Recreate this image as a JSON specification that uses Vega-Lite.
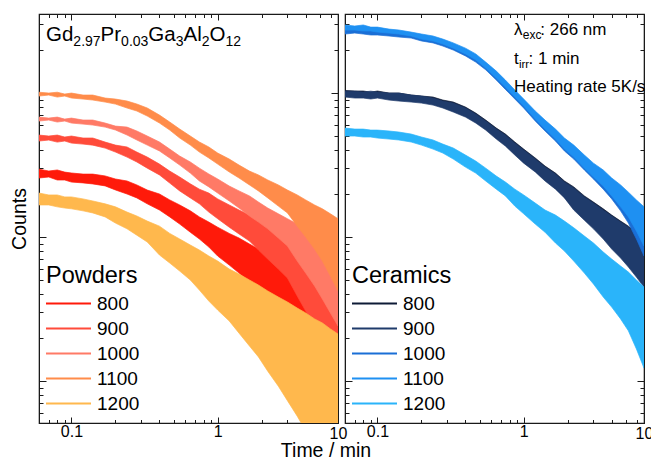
{
  "$schema": "https://vega.github.io/schema/vega-lite/v6.json",
  "background": "white",
  "padding": {"left": 8, "top": 12, "right": 0, "bottom": 0},
  "autosize": {"type": "pad"},
  "bounds": "flush",
  "spacing": 7,
  "config": {
    "font": "Liberation Sans",
    "view": {"stroke": "#1a1a1a", "strokeWidth": 1.2},
    "axis": {"grid": false, "domainColor": "#1a1a1a", "tickColor": "#1a1a1a", "labelColor": "black", "titleColor": "black", "titleFontWeight": "normal", "labelFont": "Liberation Sans", "titleFont": "Liberation Sans"},
    "legend": {"titleFont": "Liberation Sans", "labelFont": "Liberation Sans"}
  },
  "datasets": {
    "powders": [
      {"s":"800","t":0.06,"hi":2962,"lo":2570},{"s":"800","t":0.07,"hi":2873,"lo":2611},{"s":"800","t":0.08,"hi":2922,"lo":2489},{"s":"800","t":0.09,"hi":2824,"lo":2489},{"s":"800","t":0.1,"hi":2785,"lo":2408},{"s":"800","t":0.12,"hi":2736,"lo":2377},{"s":"800","t":0.14,"hi":2736,"lo":2337},{"s":"800","t":0.17,"hi":2657,"lo":2266},{"s":"800","t":0.2,"hi":2529,"lo":2123},{"s":"800","t":0.24,"hi":2450,"lo":1990},{"s":"800","t":0.28,"hi":2300,"lo":1870},{"s":"800","t":0.33,"hi":2120,"lo":1700},{"s":"800","t":0.4,"hi":1990,"lo":1540},{"s":"800","t":0.47,"hi":1810,"lo":1380},{"s":"800","t":0.55,"hi":1670,"lo":1230},{"s":"800","t":0.65,"hi":1520,"lo":1080},{"s":"800","t":0.75,"hi":1380,"lo":969},{"s":"800","t":0.87,"hi":1270,"lo":852},{"s":"800","t":1,"hi":1170,"lo":738},{"s":"800","t":1.2,"hi":1060,"lo":639},{"s":"800","t":1.4,"hi":984,"lo":562},{"s":"800","t":1.65,"hi":894,"lo":487},{"s":"800","t":1.9,"hi":825,"lo":422},{"s":"800","t":2.2,"hi":762,"lo":359},{"s":"800","t":2.6,"hi":692,"lo":297},{"s":"800","t":3,"hi":639,"lo":253},{"s":"800","t":3.5,"hi":590,"lo":205},{"s":"800","t":4,"hi":545,"lo":167},{"s":"800","t":4.6,"hi":495,"lo":134},{"s":"800","t":5.2,"hi":457,"lo":108},{"s":"800","t":5.9,"hi":415,"lo":85},{"s":"800","t":6.65,"hi":383,"lo":67},
      {"s":"900","t":0.06,"hi":5107,"lo":4643},{"s":"900","t":0.07,"hi":5028,"lo":4714},{"s":"900","t":0.08,"hi":5107,"lo":4562},{"s":"900","t":0.09,"hi":4950,"lo":4643},{"s":"900","t":0.1,"hi":5028,"lo":4491},{"s":"900","t":0.12,"hi":4871,"lo":4420},{"s":"900","t":0.14,"hi":4871,"lo":4348},{"s":"900","t":0.17,"hi":4566,"lo":4145},{"s":"900","t":0.2,"hi":4349,"lo":3891},{"s":"900","t":0.24,"hi":4220,"lo":3590},{"s":"900","t":0.28,"hi":3890,"lo":3320},{"s":"900","t":0.33,"hi":3590,"lo":3010},{"s":"900","t":0.4,"hi":3210,"lo":2700},{"s":"900","t":0.47,"hi":2870,"lo":2370},{"s":"900","t":0.55,"hi":2610,"lo":2090},{"s":"900","t":0.65,"hi":2340,"lo":1870},{"s":"900","t":0.75,"hi":2150,"lo":1700},{"s":"900","t":0.87,"hi":2020,"lo":1490},{"s":"900","t":1,"hi":1840,"lo":1340},{"s":"900","t":1.2,"hi":1670,"lo":1170},{"s":"900","t":1.4,"hi":1540,"lo":1050},{"s":"900","t":1.65,"hi":1420,"lo":938},{"s":"900","t":1.9,"hi":1310,"lo":812},{"s":"900","t":2.2,"hi":1190,"lo":703},{"s":"900","t":2.6,"hi":1080,"lo":599},{"s":"900","t":3,"hi":1000,"lo":519},{"s":"900","t":3.5,"hi":923,"lo":389},{"s":"900","t":4,"hi":852,"lo":306},{"s":"900","t":4.6,"hi":774,"lo":241},{"s":"900","t":5.2,"hi":715,"lo":190},{"s":"900","t":5.9,"hi":660,"lo":149},{"s":"900","t":6.65,"hi":609,"lo":117},
      {"s":"1000","t":0.06,"hi":6809,"lo":6391},{"s":"1000","t":0.07,"hi":6701,"lo":6492},{"s":"1000","t":0.08,"hi":6809,"lo":6289},{"s":"1000","t":0.09,"hi":6593,"lo":6391},{"s":"1000","t":0.1,"hi":6701,"lo":6187},{"s":"1000","t":0.12,"hi":6494,"lo":6086},{"s":"1000","t":0.14,"hi":6494,"lo":5994},{"s":"1000","t":0.17,"hi":6189,"lo":5801},{"s":"1000","t":0.2,"hi":5894,"lo":5537},{"s":"1000","t":0.24,"hi":5800,"lo":5110},{"s":"1000","t":0.28,"hi":5450,"lo":4720},{"s":"1000","t":0.33,"hi":5030,"lo":4350},{"s":"1000","t":0.4,"hi":4570,"lo":3960},{"s":"1000","t":0.47,"hi":4080,"lo":3540},{"s":"1000","t":0.55,"hi":3650,"lo":3160},{"s":"1000","t":0.65,"hi":3320,"lo":2780},{"s":"1000","t":0.75,"hi":3010,"lo":2450},{"s":"1000","t":0.87,"hi":2740,"lo":2230},{"s":"1000","t":1,"hi":2530,"lo":2020},{"s":"1000","t":1.2,"hi":2260,"lo":1780},{"s":"1000","t":1.4,"hi":2090,"lo":1590},{"s":"1000","t":1.65,"hi":1930,"lo":1400},{"s":"1000","t":1.9,"hi":1750,"lo":1270},{"s":"1000","t":2.2,"hi":1590,"lo":1140},{"s":"1000","t":2.6,"hi":1450,"lo":984},{"s":"1000","t":3,"hi":1340,"lo":866},{"s":"1000","t":3.5,"hi":1230,"lo":681},{"s":"1000","t":4,"hi":1140,"lo":562},{"s":"1000","t":4.6,"hi":1050,"lo":457},{"s":"1000","t":5.2,"hi":984,"lo":371},{"s":"1000","t":5.9,"hi":909,"lo":297},{"s":"1000","t":6.65,"hi":852,"lo":241},
      {"s":"1100","t":0.06,"hi":10135,"lo":9530},{"s":"1100","t":0.07,"hi":9997,"lo":9682},{"s":"1100","t":0.08,"hi":10135,"lo":9378},{"s":"1100","t":0.09,"hi":9840,"lo":9530},{"s":"1100","t":0.1,"hi":9997,"lo":9235},{"s":"1100","t":0.12,"hi":9683,"lo":9083},{"s":"1100","t":0.14,"hi":9683,"lo":8941},{"s":"1100","t":0.17,"hi":9230,"lo":8656},{"s":"1100","t":0.2,"hi":9082,"lo":8382},{"s":"1100","t":0.24,"hi":8800,"lo":7870},{"s":"1100","t":0.28,"hi":8390,"lo":7500},{"s":"1100","t":0.33,"hi":7870,"lo":6920},{"s":"1100","t":0.4,"hi":7030,"lo":6190},{"s":"1100","t":0.47,"hi":6290,"lo":5530},{"s":"1100","t":0.55,"hi":5620,"lo":4870},{"s":"1100","t":0.65,"hi":5030,"lo":4350},{"s":"1100","t":0.75,"hi":4570,"lo":3890},{"s":"1100","t":0.87,"hi":4220,"lo":3540},{"s":"1100","t":1,"hi":3830,"lo":3210},{"s":"1100","t":1.2,"hi":3480,"lo":2830},{"s":"1100","t":1.4,"hi":3160,"lo":2570},{"s":"1100","t":1.65,"hi":2870,"lo":2300},{"s":"1100","t":1.9,"hi":2700,"lo":2090},{"s":"1100","t":2.2,"hi":2490,"lo":1870},{"s":"1100","t":2.6,"hi":2300,"lo":1640},{"s":"1100","t":3,"hi":2120,"lo":1470},{"s":"1100","t":3.5,"hi":1960,"lo":1190},{"s":"1100","t":4,"hi":1810,"lo":1000},{"s":"1100","t":4.6,"hi":1670,"lo":825},{"s":"1100","t":5.2,"hi":1570,"lo":681},{"s":"1100","t":5.9,"hi":1450,"lo":536},{"s":"1100","t":6.65,"hi":1340,"lo":422},
      {"s":"1200","t":0.06,"hi":2020,"lo":1670},{"s":"1200","t":0.07,"hi":1960,"lo":1670},{"s":"1200","t":0.08,"hi":1960,"lo":1620},{"s":"1200","t":0.09,"hi":1900,"lo":1590},{"s":"1200","t":0.1,"hi":1900,"lo":1570},{"s":"1200","t":0.12,"hi":1840,"lo":1520},{"s":"1200","t":0.14,"hi":1780,"lo":1470},{"s":"1200","t":0.17,"hi":1700,"lo":1380},{"s":"1200","t":0.2,"hi":1620,"lo":1250},{"s":"1200","t":0.24,"hi":1490,"lo":1140},{"s":"1200","t":0.28,"hi":1400,"lo":1030},{"s":"1200","t":0.33,"hi":1290,"lo":923},{"s":"1200","t":0.4,"hi":1190,"lo":750},{"s":"1200","t":0.47,"hi":1060,"lo":660},{"s":"1200","t":0.55,"hi":969,"lo":580},{"s":"1200","t":0.65,"hi":880,"lo":503},{"s":"1200","t":0.75,"hi":812,"lo":428},{"s":"1200","t":0.87,"hi":738,"lo":359},{"s":"1200","t":1,"hi":681,"lo":311},{"s":"1200","t":1.2,"hi":599,"lo":261},{"s":"1200","t":1.4,"hi":553,"lo":215},{"s":"1200","t":1.65,"hi":503,"lo":175},{"s":"1200","t":1.9,"hi":464,"lo":147},{"s":"1200","t":2.2,"hi":422,"lo":117},{"s":"1200","t":2.6,"hi":383,"lo":92},{"s":"1200","t":3,"hi":354,"lo":73},{"s":"1200","t":3.5,"hi":321,"lo":57},{"s":"1200","t":4,"hi":297,"lo":45},{"s":"1200","t":4.6,"hi":270,"lo":38},{"s":"1200","t":5.2,"hi":253,"lo":38},{"s":"1200","t":5.9,"hi":230,"lo":38},{"s":"1200","t":6.65,"hi":212,"lo":38}
    ],
    "ceramics": [
      {"s":"800","t":0.06,"hi":10430,"lo":9682},{"s":"800","t":0.07,"hi":10332,"lo":9530},{"s":"800","t":0.08,"hi":10332,"lo":9378},{"s":"800","t":0.09,"hi":10135,"lo":9530},{"s":"800","t":0.1,"hi":10332,"lo":9378},{"s":"800","t":0.12,"hi":9997,"lo":9235},{"s":"800","t":0.14,"hi":9997,"lo":9083},{"s":"800","t":0.17,"hi":9683,"lo":8941},{"s":"800","t":0.2,"hi":9535,"lo":8799},{"s":"800","t":0.24,"hi":9380,"lo":8390},{"s":"800","t":0.28,"hi":8940,"lo":7990},{"s":"800","t":0.33,"hi":8660,"lo":7500},{"s":"800","t":0.4,"hi":7990,"lo":6920},{"s":"800","t":0.47,"hi":7260,"lo":6290},{"s":"800","t":0.55,"hi":6490,"lo":5620},{"s":"800","t":0.65,"hi":5710,"lo":4870},{"s":"800","t":0.75,"hi":5190,"lo":4350},{"s":"800","t":0.87,"hi":4570,"lo":3770},{"s":"800","t":1,"hi":4080,"lo":3320},{"s":"800","t":1.2,"hi":3540,"lo":2870},{"s":"800","t":1.4,"hi":3110,"lo":2490},{"s":"800","t":1.65,"hi":2780,"lo":2190},{"s":"800","t":1.9,"hi":2450,"lo":1900},{"s":"800","t":2.2,"hi":2230,"lo":1570},{"s":"800","t":2.6,"hi":1930,"lo":1340},{"s":"800","t":3,"hi":1750,"lo":1170},{"s":"800","t":3.5,"hi":1570,"lo":1000},{"s":"800","t":4,"hi":1420,"lo":852},{"s":"800","t":4.6,"hi":1290,"lo":738},{"s":"800","t":5.2,"hi":1190,"lo":649},{"s":"800","t":5.9,"hi":1080,"lo":553},{"s":"800","t":6.65,"hi":984,"lo":479},
      {"s":"900","t":0.06,"hi":10300,"lo":9380},{"s":"900","t":0.07,"hi":10300,"lo":9230},{"s":"900","t":0.08,"hi":10160,"lo":9230},{"s":"900","t":0.09,"hi":10300,"lo":9090},{"s":"900","t":0.1,"hi":10160,"lo":9230},{"s":"900","t":0.12,"hi":10000,"lo":8940},{"s":"900","t":0.14,"hi":10000,"lo":8800},{"s":"900","t":0.17,"hi":9690,"lo":8660},{"s":"900","t":0.2,"hi":9530,"lo":8520},{"s":"900","t":0.24,"hi":9230,"lo":8250},{"s":"900","t":0.28,"hi":8800,"lo":7870},{"s":"900","t":0.33,"hi":8520,"lo":7380},{"s":"900","t":0.4,"hi":7870,"lo":6810},{"s":"900","t":0.47,"hi":7150,"lo":6190},{"s":"900","t":0.55,"hi":6390,"lo":5530},{"s":"900","t":0.65,"hi":5620,"lo":4790},{"s":"900","t":0.75,"hi":5110,"lo":4280},{"s":"900","t":0.87,"hi":4490,"lo":3710},{"s":"900","t":1,"hi":4020,"lo":3260},{"s":"900","t":1.2,"hi":3480,"lo":2830},{"s":"900","t":1.4,"hi":3060,"lo":2450},{"s":"900","t":1.65,"hi":2740,"lo":2150},{"s":"900","t":1.9,"hi":2410,"lo":1870},{"s":"900","t":2.2,"hi":2190,"lo":1540},{"s":"900","t":2.6,"hi":1900,"lo":1310},{"s":"900","t":3,"hi":1720,"lo":1140},{"s":"900","t":3.5,"hi":1540,"lo":969},{"s":"900","t":4,"hi":1400,"lo":825},{"s":"900","t":4.6,"hi":1270,"lo":715},{"s":"900","t":5.2,"hi":1170,"lo":619},{"s":"900","t":5.9,"hi":1060,"lo":527},{"s":"900","t":6.65,"hi":969,"lo":449},
      {"s":"1000","t":0.06,"hi":27800,"lo":25700},{"s":"1000","t":0.07,"hi":27800,"lo":26100},{"s":"1000","t":0.08,"hi":27400,"lo":25700},{"s":"1000","t":0.09,"hi":27400,"lo":25300},{"s":"1000","t":0.1,"hi":27000,"lo":25300},{"s":"1000","t":0.12,"hi":26500,"lo":24900},{"s":"1000","t":0.14,"hi":26100,"lo":24500},{"s":"1000","t":0.17,"hi":25700,"lo":24100},{"s":"1000","t":0.2,"hi":24900,"lo":23000},{"s":"1000","t":0.24,"hi":24100,"lo":22300},{"s":"1000","t":0.28,"hi":23000,"lo":21200},{"s":"1000","t":0.33,"hi":21500,"lo":19900},{"s":"1000","t":0.4,"hi":19900,"lo":18100},{"s":"1000","t":0.47,"hi":18100,"lo":16400},{"s":"1000","t":0.55,"hi":15900,"lo":14500},{"s":"1000","t":0.65,"hi":13800,"lo":12300},{"s":"1000","t":0.75,"hi":11900,"lo":10600},{"s":"1000","t":0.87,"hi":10160,"lo":9090},{"s":"1000","t":1,"hi":8800,"lo":7870},{"s":"1000","t":1.2,"hi":7260,"lo":6390},{"s":"1000","t":1.4,"hi":6290,"lo":5450},{"s":"1000","t":1.65,"hi":5450,"lo":4640},{"s":"1000","t":1.9,"hi":4720,"lo":3960},{"s":"1000","t":2.2,"hi":4220,"lo":3480},{"s":"1000","t":2.6,"hi":3590,"lo":2920},{"s":"1000","t":3,"hi":3160,"lo":2530},{"s":"1000","t":3.5,"hi":2830,"lo":2150},{"s":"1000","t":4,"hi":2530,"lo":1840},{"s":"1000","t":4.6,"hi":2230,"lo":1520},{"s":"1000","t":5.2,"hi":1990,"lo":1250},{"s":"1000","t":5.9,"hi":1750,"lo":969},{"s":"1000","t":6.65,"hi":1570,"lo":738},
      {"s":"1100","t":0.06,"hi":29700,"lo":27400},{"s":"1100","t":0.07,"hi":29200,"lo":27400},{"s":"1100","t":0.08,"hi":29700,"lo":27000},{"s":"1100","t":0.09,"hi":28700,"lo":27000},{"s":"1100","t":0.1,"hi":28700,"lo":26500},{"s":"1100","t":0.12,"hi":27800,"lo":26100},{"s":"1100","t":0.14,"hi":27400,"lo":25700},{"s":"1100","t":0.17,"hi":26500,"lo":24900},{"s":"1100","t":0.2,"hi":25700,"lo":23700},{"s":"1100","t":0.24,"hi":24900,"lo":23000},{"s":"1100","t":0.28,"hi":23700,"lo":21900},{"s":"1100","t":0.33,"hi":22300,"lo":20500},{"s":"1100","t":0.4,"hi":20500,"lo":18700},{"s":"1100","t":0.47,"hi":18700,"lo":17000},{"s":"1100","t":0.55,"hi":16400,"lo":14900},{"s":"1100","t":0.65,"hi":14200,"lo":12700},{"s":"1100","t":0.75,"hi":12300,"lo":11000},{"s":"1100","t":0.87,"hi":10500,"lo":9380},{"s":"1100","t":1,"hi":9090,"lo":8120},{"s":"1100","t":1.2,"hi":7500,"lo":6600},{"s":"1100","t":1.4,"hi":6490,"lo":5620},{"s":"1100","t":1.65,"hi":5620,"lo":4790},{"s":"1100","t":1.9,"hi":4870,"lo":4080},{"s":"1100","t":2.2,"hi":4350,"lo":3590},{"s":"1100","t":2.6,"hi":3710,"lo":3010},{"s":"1100","t":3,"hi":3260,"lo":2610},{"s":"1100","t":3.5,"hi":2920,"lo":2260},{"s":"1100","t":4,"hi":2570,"lo":1930},{"s":"1100","t":4.6,"hi":2300,"lo":1620},{"s":"1100","t":5.2,"hi":2050,"lo":1380},{"s":"1100","t":5.9,"hi":1810,"lo":1100},{"s":"1100","t":6.65,"hi":1620,"lo":866},
      {"s":"1200","t":0.06,"hi":5710,"lo":5030},{"s":"1200","t":0.07,"hi":5620,"lo":5030},{"s":"1200","t":0.08,"hi":5620,"lo":4950},{"s":"1200","t":0.09,"hi":5530,"lo":4950},{"s":"1200","t":0.1,"hi":5530,"lo":4870},{"s":"1200","t":0.12,"hi":5450,"lo":4790},{"s":"1200","t":0.14,"hi":5360,"lo":4720},{"s":"1200","t":0.17,"hi":5190,"lo":4570},{"s":"1200","t":0.2,"hi":4950,"lo":4350},{"s":"1200","t":0.24,"hi":4720,"lo":4080},{"s":"1200","t":0.28,"hi":4420,"lo":3830},{"s":"1200","t":0.33,"hi":4150,"lo":3480},{"s":"1200","t":0.4,"hi":3710,"lo":3060},{"s":"1200","t":0.47,"hi":3370,"lo":2780},{"s":"1200","t":0.55,"hi":3010,"lo":2450},{"s":"1200","t":0.65,"hi":2650,"lo":2150},{"s":"1200","t":0.75,"hi":2410,"lo":1930},{"s":"1200","t":0.87,"hi":2150,"lo":1640},{"s":"1200","t":1,"hi":1960,"lo":1450},{"s":"1200","t":1.2,"hi":1720,"lo":1230},{"s":"1200","t":1.4,"hi":1540,"lo":1080},{"s":"1200","t":1.65,"hi":1420,"lo":909},{"s":"1200","t":1.9,"hi":1290,"lo":799},{"s":"1200","t":2.2,"hi":1160,"lo":681},{"s":"1200","t":2.6,"hi":1016,"lo":562},{"s":"1200","t":3,"hi":909,"lo":472},{"s":"1200","t":3.5,"hi":787,"lo":383},{"s":"1200","t":4,"hi":703,"lo":326},{"s":"1200","t":4.6,"hi":629,"lo":270},{"s":"1200","t":5.2,"hi":571,"lo":223},{"s":"1200","t":5.9,"hi":503,"lo":167},{"s":"1200","t":6.65,"hi":449,"lo":123}
    ]
  },
  "hconcat": [
    {
      "width": 299,
      "height": 409,
      "layer": [
        {
          "data": {"name": "powders"},
          "mark": {"type": "area", "clip": true, "strokeWidth": 0.7},
          "encoding": {
            "x": {"field": "t", "type": "quantitative", "scale": {"type": "log", "domain": [0.06, 6.65], "nice": false},
              "axis": {"orient": "bottom", "values": [0.06,0.07,0.08,0.09,0.1,0.2,0.3,0.4,0.5,0.6,0.7,0.8,0.9,1,2,3,4,5,6,6.65],
                "labelExpr": "datum.value == 0.1 ? '0.1' : datum.value == 1 ? '1' : datum.value == 6.65 ? '10' : ''",
                "labelFontSize": 16, "labelPadding": 6, "labelOverlap": false, "labelFlush": false, "labelBound": false,
                "tickSize": {"condition": {"test": "datum.value == 0.1 || datum.value == 1", "value": -6}, "value": -3.5},
                "title": "Time / min", "titleFontSize": 19.5, "titleX": 286.5, "titleY": 33, "titleAlign": "center", "titleBaseline": "alphabetic"}},
            "y": {"field": "hi", "type": "quantitative", "stack": null, "scale": {"type": "log", "domain": [51.1, 35400], "nice": false},
              "axis": {"orient": "left", "values": [60,70,80,90,100,200,300,400,500,600,700,800,900,1000,2000,3000,4000,5000,6000,7000,8000,9000,10000,20000,30000],
                "labels": false,
                "tickSize": {"condition": {"test": "datum.value == 100 || datum.value == 1000 || datum.value == 10000", "value": -7}, "value": -4},
                "title": "Counts", "titleFontSize": 19.5, "titlePadding": 9}},
            "y2": {"field": "lo"},
            "fill": {"field": "s", "type": "nominal",
              "scale": {"domain": ["800","900","1000","1100","1200"], "range": ["#ff1a0a","#ff4b3a","#ff7a66","#ff8c4a","#ffb84d"]},
              "legend": {"title": "Powders", "orient": "none", "legendX": 7, "legendY": 250, "padding": 0,
                "titleFontSize": 23.5, "titleFontWeight": "normal", "titleColor": "black", "titlePadding": 6,
                "labelFontSize": 19, "labelColor": "black", "labelOffset": 6,
                "symbolType": "M-1,-0.045H1V0.045H-1Z", "symbolSize": 2025, "symbolStrokeWidth": 0,
                "clipHeight": 20, "rowPadding": 5}},
            "stroke": {"field": "s", "type": "nominal",
              "scale": {"domain": ["800","900","1000","1100","1200"], "range": ["#ff1a0a","#ff4b3a","#ff7a66","#ff8c4a","#ffb84d"]},
              "legend": null}
          }
        },
        {
          "data": {"name": "powders"},
          "mark": {"type": "point", "opacity": 0},
          "encoding": {
            "x": {"field": "t", "type": "quantitative", "scale": {"type": "log", "domain": [0.06, 6.65], "nice": false},
              "axis": {"orient": "top", "values": [0.06,0.07,0.08,0.09,0.1,0.2,0.3,0.4,0.5,0.6,0.7,0.8,0.9,1,2,3,4,5,6], "labels": false, "title": null,
                "tickSize": {"condition": {"test": "datum.value == 0.1 || datum.value == 1", "value": -6}, "value": -3.5}}},
            "y": {"field": "hi", "type": "quantitative", "scale": {"type": "log", "domain": [51.1, 35400], "nice": false},
              "axis": {"orient": "right", "values": [60,70,80,90,100,200,300,400,500,600,700,800,900,1000,2000,3000,4000,5000,6000,7000,8000,9000,10000,20000,30000],
                "labels": false, "title": null,
                "tickSize": {"condition": {"test": "datum.value == 100 || datum.value == 1000 || datum.value == 10000", "value": -7}, "value": -4}}}
          }
        },
        {
          "data": {"values": [{}]},
          "encoding": {
            "x": {"datum": 0.067, "type": "quantitative", "scale": {"type": "log", "domain": [0.06, 6.65], "nice": false}, "axis": null},
            "y": {"datum": 23000, "type": "quantitative", "scale": {"type": "log", "domain": [51.1, 35400], "nice": false}, "axis": null}
          },
          "layer": [
            {"mark": {"type": "text", "align": "left", "baseline": "alphabetic", "fontSize": 20.5, "color": "black", "dx": 0}, "encoding": {"text": {"value": "Gd"}}},
            {"mark": {"type": "text", "align": "left", "baseline": "alphabetic", "fontSize": 14, "color": "black", "dx": 27.35, "dy": 5}, "encoding": {"text": {"value": "2.97"}}},
            {"mark": {"type": "text", "align": "left", "baseline": "alphabetic", "fontSize": 20.5, "color": "black", "dx": 54.6}, "encoding": {"text": {"value": "Pr"}}},
            {"mark": {"type": "text", "align": "left", "baseline": "alphabetic", "fontSize": 14, "color": "black", "dx": 75.1, "dy": 5}, "encoding": {"text": {"value": "0.03"}}},
            {"mark": {"type": "text", "align": "left", "baseline": "alphabetic", "fontSize": 20.5, "color": "black", "dx": 102.3}, "encoding": {"text": {"value": "Ga"}}},
            {"mark": {"type": "text", "align": "left", "baseline": "alphabetic", "fontSize": 14, "color": "black", "dx": 129.7, "dy": 5}, "encoding": {"text": {"value": "3"}}},
            {"mark": {"type": "text", "align": "left", "baseline": "alphabetic", "fontSize": 20.5, "color": "black", "dx": 137.5}, "encoding": {"text": {"value": "Al"}}},
            {"mark": {"type": "text", "align": "left", "baseline": "alphabetic", "fontSize": 14, "color": "black", "dx": 155.7, "dy": 5}, "encoding": {"text": {"value": "2"}}},
            {"mark": {"type": "text", "align": "left", "baseline": "alphabetic", "fontSize": 20.5, "color": "black", "dx": 163.5}, "encoding": {"text": {"value": "O"}}},
            {"mark": {"type": "text", "align": "left", "baseline": "alphabetic", "fontSize": 14, "color": "black", "dx": 179.4, "dy": 5}, "encoding": {"text": {"value": "12"}}}
          ]
        }
      ],
      "resolve": {"axis": {"x": "independent", "y": "independent"}}
    },
    {
      "width": 299,
      "height": 409,
      "layer": [
        {
          "data": {"name": "ceramics"},
          "mark": {"type": "area", "clip": true, "strokeWidth": 0.7},
          "encoding": {
            "x": {"field": "t", "type": "quantitative", "scale": {"type": "log", "domain": [0.06, 6.65], "nice": false},
              "axis": {"orient": "bottom", "values": [0.06,0.07,0.08,0.09,0.1,0.2,0.3,0.4,0.5,0.6,0.7,0.8,0.9,1,2,3,4,5,6,6.65],
                "labelExpr": "datum.value == 0.1 ? '0.1' : datum.value == 1 ? '1' : datum.value == 6.65 ? '10' : ''",
                "labelFontSize": 16, "labelPadding": 6, "labelOverlap": false, "labelFlush": false, "labelBound": false,
                "tickSize": {"condition": {"test": "datum.value == 0.1 || datum.value == 1", "value": -6}, "value": -3.5},
                "title": null}},
            "y": {"field": "hi", "type": "quantitative", "stack": null, "scale": {"type": "log", "domain": [51.1, 35400], "nice": false},
              "axis": {"orient": "left", "values": [60,70,80,90,100,200,300,400,500,600,700,800,900,1000,2000,3000,4000,5000,6000,7000,8000,9000,10000,20000,30000],
                "labels": false, "title": null,
                "tickSize": {"condition": {"test": "datum.value == 100 || datum.value == 1000 || datum.value == 10000", "value": -7}, "value": -4}}},
            "y2": {"field": "lo"},
            "fill": {"field": "s", "type": "nominal",
              "scale": {"domain": ["800","900","1000","1100","1200"], "range": ["#0e1b36","#1f3b6b","#1a6fd6","#1e90f2","#2ab4fa"]},
              "legend": {"title": "Ceramics", "orient": "none", "legendX": 7, "legendY": 250, "padding": 0,
                "titleFontSize": 23.5, "titleFontWeight": "normal", "titleColor": "black", "titlePadding": 6,
                "labelFontSize": 19, "labelColor": "black", "labelOffset": 6,
                "symbolType": "M-1,-0.045H1V0.045H-1Z", "symbolSize": 2025, "symbolStrokeWidth": 0,
                "clipHeight": 20, "rowPadding": 5}},
            "stroke": {"field": "s", "type": "nominal",
              "scale": {"domain": ["800","900","1000","1100","1200"], "range": ["#0e1b36","#1f3b6b","#1a6fd6","#1e90f2","#2ab4fa"]},
              "legend": null}
          }
        },
        {
          "data": {"name": "ceramics"},
          "mark": {"type": "point", "opacity": 0},
          "encoding": {
            "x": {"field": "t", "type": "quantitative", "scale": {"type": "log", "domain": [0.06, 6.65], "nice": false},
              "axis": {"orient": "top", "values": [0.06,0.07,0.08,0.09,0.1,0.2,0.3,0.4,0.5,0.6,0.7,0.8,0.9,1,2,3,4,5,6], "labels": false, "title": null,
                "tickSize": {"condition": {"test": "datum.value == 0.1 || datum.value == 1", "value": -6}, "value": -3.5}}},
            "y": {"field": "hi", "type": "quantitative", "scale": {"type": "log", "domain": [51.1, 35400], "nice": false},
              "axis": {"orient": "right", "values": [60,70,80,90,100,200,300,400,500,600,700,800,900,1000,2000,3000,4000,5000,6000,7000,8000,9000,10000,20000,30000],
                "labels": false, "title": null,
                "tickSize": {"condition": {"test": "datum.value == 100 || datum.value == 1000 || datum.value == 10000", "value": -7}, "value": -4}}}
          }
        },
        {
          "data": {"values": [{}]},
          "encoding": {
            "x": {"datum": 0.859, "type": "quantitative", "scale": {"type": "log", "domain": [0.06, 6.65], "nice": false}, "axis": null}
          },
          "layer": [
            {"mark": {"type": "text", "align": "left", "baseline": "alphabetic", "fontSize": 17, "color": "black", "dx": 0},
             "encoding": {"y": {"datum": 25300, "type": "quantitative", "scale": {"type": "log", "domain": [51.1, 35400], "nice": false}, "axis": null}, "text": {"value": "λ"}}},
            {"mark": {"type": "text", "align": "left", "baseline": "alphabetic", "fontSize": 12, "color": "black", "dx": 8.7, "dy": 4},
             "encoding": {"y": {"datum": 25300, "type": "quantitative", "scale": {"type": "log", "domain": [51.1, 35400], "nice": false}, "axis": null}, "text": {"value": "exc"}}},
            {"mark": {"type": "text", "align": "left", "baseline": "alphabetic", "fontSize": 17, "color": "black", "dx": 26.3},
             "encoding": {"y": {"datum": 25300, "type": "quantitative", "scale": {"type": "log", "domain": [51.1, 35400], "nice": false}, "axis": null}, "text": {"value": ": 266 nm"}}},
            {"mark": {"type": "text", "align": "left", "baseline": "alphabetic", "fontSize": 17, "color": "black", "dx": 0},
             "encoding": {"y": {"datum": 15900, "type": "quantitative", "scale": {"type": "log", "domain": [51.1, 35400], "nice": false}, "axis": null}, "text": {"value": "t"}}},
            {"mark": {"type": "text", "align": "left", "baseline": "alphabetic", "fontSize": 11.5, "color": "black", "dx": 4.9, "dy": 4},
             "encoding": {"y": {"datum": 15900, "type": "quantitative", "scale": {"type": "log", "domain": [51.1, 35400], "nice": false}, "axis": null}, "text": {"value": "irr"}}},
            {"mark": {"type": "text", "align": "left", "baseline": "alphabetic", "fontSize": 17, "color": "black", "dx": 14.5},
             "encoding": {"y": {"datum": 15900, "type": "quantitative", "scale": {"type": "log", "domain": [51.1, 35400], "nice": false}, "axis": null}, "text": {"value": ": 1 min"}}},
            {"mark": {"type": "text", "align": "left", "baseline": "alphabetic", "fontSize": 17, "color": "black", "dx": 0},
             "encoding": {"y": {"datum": 10200, "type": "quantitative", "scale": {"type": "log", "domain": [51.1, 35400], "nice": false}, "axis": null}, "text": {"value": "Heating rate 5K/s"}}}
          ]
        }
      ],
      "resolve": {"axis": {"x": "independent", "y": "independent"}}
    }
  ],
  "resolve": {"scale": {"x": "independent", "y": "independent", "fill": "independent", "stroke": "independent"}, "legend": {"fill": "independent"}}
}
